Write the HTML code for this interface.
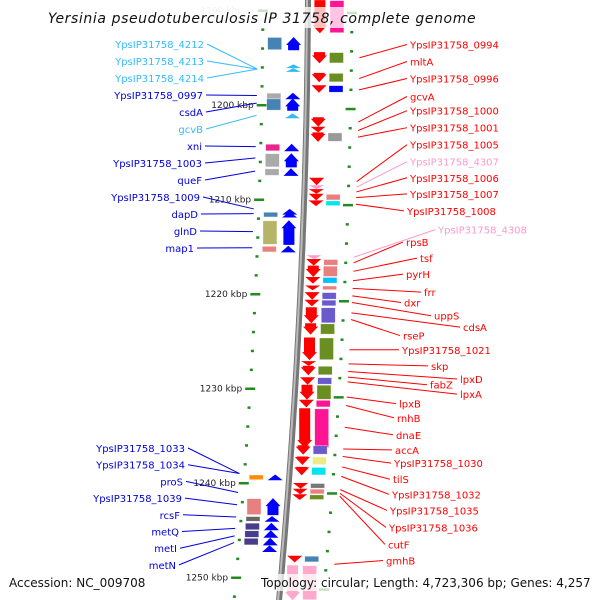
<!DOCTYPE html>
<html><head><meta charset="utf-8"><style>
html,body{margin:0;padding:0;background:#fff;}
svg{display:block;font-family:"DejaVu Sans","Liberation Sans",sans-serif;}
</style></head><body>
<svg id="map" width="600" height="600" viewBox="0 0 600 600" xmlns="http://www.w3.org/2000/svg"></svg>
<script>
// ---- data (positions in kbp) ----
const geneStarts = [1192.8,1195.7,1196.1,1198.7,1199.3,1200.9,1204.1,1205.1,1206.7,1211.0,1211.3,1212.2,1214.9,1239.1,1241.6,1243.5,1244.2,1245.0,1245.8,1246.6,
  1188.9,1194.4,1196.6,1197.9,1201.3,1202.3,1202.9,1207.7,1208.5,1208.9,1209.4,1210.1,1215.9,1216.3,1217.0,1218.2,1219.1,1219.8,1220.6,1221.4,1223.1,1224.6,1227.1,1227.6,1228.8,1229.6,1231.2,1232.1,1236.0,1237.2,1238.3,1240.0,1240.6,1241.2,1247.7,1248.7];
const geneEnds = [1194.2,1196.1,1196.5,1199.4,1200.6,1201.4,1204.9,1206.6,1207.5,1211.6,1211.9,1214.8,1215.6,1239.7,1243.4,1244.1,1245.0,1245.8,1246.6,1247.3,
  1192.4,1195.6,1197.6,1198.7,1202.3,1202.9,1203.9,1208.5,1208.9,1209.4,1210.1,1210.7,1216.3,1217.0,1218.2,1218.9,1219.6,1220.6,1221.3,1223.1,1224.3,1227.0,1227.6,1228.6,1229.6,1231.2,1232.0,1236.3,1237.0,1238.1,1239.2,1240.6,1241.2,1241.8,1248.4,1252.4];
const geneStrands = [1,1,1,1,1,1,1,1,1,1,1,1,1,1,1,1,1,1,1,1,
  -1,-1,-1,-1,-1,-1,-1,-1,-1,-1,-1,-1,-1,-1,-1,-1,-1,-1,-1,-1,-1,-1,-1,-1,-1,-1,-1,-1,-1,-1,-1,-1,-1,-1,-1,-1];
const arrowColors = ["#0000ff","#33bbee","#33bbee","#0000ff","#0000ff","#33bbee","#0000ff","#0000ff","#0000ff","#0000ff","#0000ff","#0000ff","#0000ff","#0000ff","#0000ff","#0000ff","#0000ff","#0000ff","#0000ff","#0000ff",
  "#ff0000","#ff0000","#ff0000","#ff0000","#ff0000","#ff0000","#ff0000","#ff0000","#ff99cc","#ff0000","#ff0000","#ff0000","#ff99cc","#ff0000","#ff0000","#ff0000","#ff0000","#ff0000","#ff0000","#ff0000","#ff0000","#ff0000","#ff0000","#ff0000","#ff0000","#ff0000","#ff0000","#ff0000","#ff0000","#ff0000","#ff0000","#ff0000","#ff0000","#ff0000","#ff0000","#ffaacc"];
const boxColors = ["#4682b4","","","#aaaaaa","#4682b4","","#e8268c","#aaaaaa","#aaaaaa","","#4682b4","#b5b56a","#e88080","#ff8c00","#e88080","#666666","#483d8b","#483d8b","#483d8b","",
  "#ff1493","#6b8e23","#6b8e23","#0000ff","","","#999999","","","","#e88080","#00e5ee","","#e88080","#e88080","#00bfff","#e88080","#6a5acd","#6a5acd","#6a5acd","#6b8e23","#6b8e23","","#6b8e23","#6a5acd","#6b8e23","#ff1493","#ff1493","#6a5acd","#eeea88","#00e5ee","#777777","#e88080","#6b8e23","#4682b4","#ffaacc"];
const majorTicks = [1190,1200,1210,1220,1230,1240,1250];
const tickLabels = ["1190 kbp","1200 kbp","1210 kbp","1220 kbp","1230 kbp","1240 kbp","1250 kbp"];
const leftLabels = ["YpsIP31758_4212","YpsIP31758_4213","YpsIP31758_4214","YpsIP31758_0997","csdA","gcvB","xni","YpsIP31758_1003","queF","YpsIP31758_1009","dapD","glnD","map1","YpsIP31758_1033","YpsIP31758_1034","proS","YpsIP31758_1039","rcsF","metQ","metI","metN"];
const leftLabelColors = ["#33bbff","#33bbff","#33bbff","#0000dd","#0000dd","#33bbff","#0000dd","#0000dd","#0000dd","#0000dd","#0000dd","#0000dd","#0000dd","#0000dd","#0000dd","#0000dd","#0000dd","#0000dd","#0000dd","#0000dd","#0000dd"];
const leftLabelRight = [204,204,204,203,203,203,202,202,202,200,198,197,194,185,185,183,182,180,179,177,176];
const leftTargets = [1196.2,1196.2,1196.2,1199.0,1199.8,1201.1,1204.4,1205.6,1207.0,1211.0,1211.5,1213.4,1215.1,1239.0,1239.0,1241.0,1242.3,1243.6,1244.8,1245.6,1246.3];
const rightLabels = ["YpsIP31758_0994","mltA","YpsIP31758_0996","gcvA","YpsIP31758_1000","YpsIP31758_1001","YpsIP31758_1005","YpsIP31758_4307","YpsIP31758_1006","YpsIP31758_1007","YpsIP31758_1008","YpsIP31758_4308","rpsB","tsf","pyrH","frr","dxr","uppS","cdsA","rseP","YpsIP31758_1021","skp","lpxD","fabZ","lpxA","lpxB","rnhB","dnaE","accA","YpsIP31758_1030","tilS","YpsIP31758_1032","YpsIP31758_1035","YpsIP31758_1036","cutF","gmhB"];
const rightLabelX = [410,410,410,410,410,410,410,410,410,410,407,438,406,420,406,424,404,434,463,403,402,431,460,430,460,399,397,396,395,394,393,392,390,389,388,386];
const rightLabelKbp = [1193.6,1195.4,1197.2,1199.1,1200.6,1202.4,1204.2,1206.0,1207.7,1209.4,1211.2,1213.2,1214.5,1216.2,1217.9,1219.8,1220.9,1222.3,1223.5,1224.4,1225.9,1227.6,1229.0,1229.6,1230.6,1231.6,1233.1,1234.9,1236.5,1237.9,1239.6,1241.2,1242.9,1244.7,1246.5,1248.2];
const rightTargets = [1195.0,1197.2,1198.4,1201.8,1202.7,1203.4,1208.1,1208.7,1209.2,1209.8,1210.5,1216.1,1216.7,1217.6,1218.6,1219.4,1220.2,1220.9,1222.0,1222.7,1225.9,1227.4,1228.2,1228.8,1229.3,1230.9,1231.8,1234.1,1236.4,1237.2,1238.3,1239.3,1240.7,1241.1,1241.4,1248.6];

// ---- scales ----
const yS = k => 105 + (k - 1200) * 9.45;
const bx = y => 308 - 0.005 * y - 0.000072 * y * y;
const NS = "http://www.w3.org/2000/svg";
const svg = document.getElementById('map');
function mk(tag, attrs, parent) {
  const e = document.createElementNS(NS, tag);
  for (const k in attrs) e.setAttribute(k, attrs[k]);
  (parent || svg).appendChild(e);
  return e;
}

// faded 1190 label
const t90 = mk('text', {x: 243, y: yS(1190) + 3, 'font-size': 9, fill: '#ccc', 'text-anchor': 'end'});


t90.textContent = tickLabels[0];

// backbone
let d = '';
for (let y = -5; y <= 605; y += 5) d += (y === -5 ? 'M' : 'L') + bx(y).toFixed(1) + ' ' + y;
const bb = mk('path', {d: d, stroke: '#777', 'stroke-width': 6, fill: 'none'});


const bb2 = mk('path', {d: d, stroke: '#bbb', 'stroke-width': 2, fill: 'none', transform: 'translate(-1,0)'});



// ticks (every 2 kbp)
for (let k = 1188; k <= 1252; k += 2) {
  const y = yS(k);
  const major = majorTicks.indexOf(k) >= 0;
  const yr = y * 1.017 + 2;
  const w = major ? 10 : 3;
  const tl = mk('rect', {x: bx(y) - 45 - w / 2, y: y - 1, width: w, height: 2.5, fill: '#228b22'});
  
  
  const tr = mk('rect', {x: bx(yr) + 44 - w / 2, y: yr - 1, width: w, height: 2.5, fill: '#228b22'});
  
  
}
for (let i = 1; i < majorTicks.length; i++) {
  const y = yS(majorTicks[i]);
  const tx = mk('text', {x: bx(y) - 53, y: y + 3, 'font-size': 9, fill: '#222', 'text-anchor': 'end'});
  
  
  tx.textContent = tickLabels[i];
}

// genes
for (let i = 0; i < geneStarts.length; i++) {
  const y1 = yS(geneStarts[i]), y2 = yS(geneEnds[i]);
  const ym = (y1 + y2) / 2;
  const s = geneStrands[i];
  const ax = bx(ym) + (s > 0 ? -14 : 12);
  const h = y2 - y1, hl = Math.min(h, 8), hw = 7.5, bw = 5.5;
  let pts;
  if (s > 0) pts = [[ax, y1], [ax + hw, y1 + hl], [ax + bw, y1 + hl], [ax + bw, y2], [ax - bw, y2], [ax - bw, y1 + hl], [ax - hw, y1 + hl]];
  else pts = [[ax, y2], [ax + hw, y2 - hl], [ax + bw, y2 - hl], [ax + bw, y1], [ax - bw, y1], [ax - bw, y2 - hl], [ax - hw, y2 - hl]];
  const ar = mk('polygon', {points: pts.map(p => p[0].toFixed(1) + ',' + p[1].toFixed(1)).join(' '), fill: arrowColors[i]});
  
  
  if (boxColors[i]) {
    const cx = bx(ym) + (s > 0 ? -33 : 29);
    const bh = Math.max(h - 1, 2);
    const bxr = mk('rect', {x: cx - 7, y: ym - bh / 2, width: 14, height: bh, fill: boxColors[i], stroke: 'rgba(255,255,255,0.6)', 'stroke-width': 0.6});
    
    
  }
}

// left labels
for (let i = 0; i < leftLabels.length; i++) {
  const ly = i < 13 ? 44 + i * 17 : 448 + (i - 13) * 16.7;
  const ty = yS(leftTargets[i]);
  const ln = mk('line', {x1: leftLabelRight[i] + 3, y1: ly, x2: bx(ty) - 50, y2: ty, stroke: leftLabelColors[i], 'stroke-width': 1});
  
  
  const tx = mk('text', {x: leftLabelRight[i], y: ly + 4, 'font-size': 10, fill: leftLabelColors[i], 'text-anchor': 'end'});
  
  
  tx.textContent = leftLabels[i];
}

// right labels
for (let i = 0; i < rightLabels.length; i++) {
  const ly = yS(rightLabelKbp[i]);
  const ty = yS(rightTargets[i]);
  const col = rightLabels[i].endsWith('4307') || rightLabels[i].endsWith('4308') ? '#ff99cc' : '#ff0000';
  const ln = mk('line', {x1: bx(ty) + 52, y1: ty, x2: rightLabelX[i] - 3, y2: ly, stroke: col, 'stroke-width': 1});
  
  
  const tx = mk('text', {x: rightLabelX[i], y: ly + 4, 'font-size': 10, fill: col});
  
  
  tx.textContent = rightLabels[i];
}

// title with translucent band
const band = mk('rect', {x: 90, y: 7, width: 345, height: 21, fill: 'rgba(255,255,255,0.75)'});


const title = mk('text', {x: 262, y: 23, 'font-size': 14, 'font-style': 'italic', fill: '#111', 'text-anchor': 'middle', 'letter-spacing': '0.6'});


title.textContent = 'Yersinia pseudotuberculosis IP 31758, complete genome';

// footer
const fb = mk('rect', {x: 255, y: 574, width: 340, height: 17, fill: 'rgba(255,255,255,0.75)'});


const acc = mk('text', {x: 9, y: 587, 'font-size': 12, fill: '#111'});


acc.textContent = 'Accession: NC_009708';
const topo = mk('text', {x: 261, y: 587, 'font-size': 12, fill: '#111'});


topo.textContent = 'Topology: circular; Length: 4,723,306 bp; Genes: 4,257';
</script>
</body></html>
